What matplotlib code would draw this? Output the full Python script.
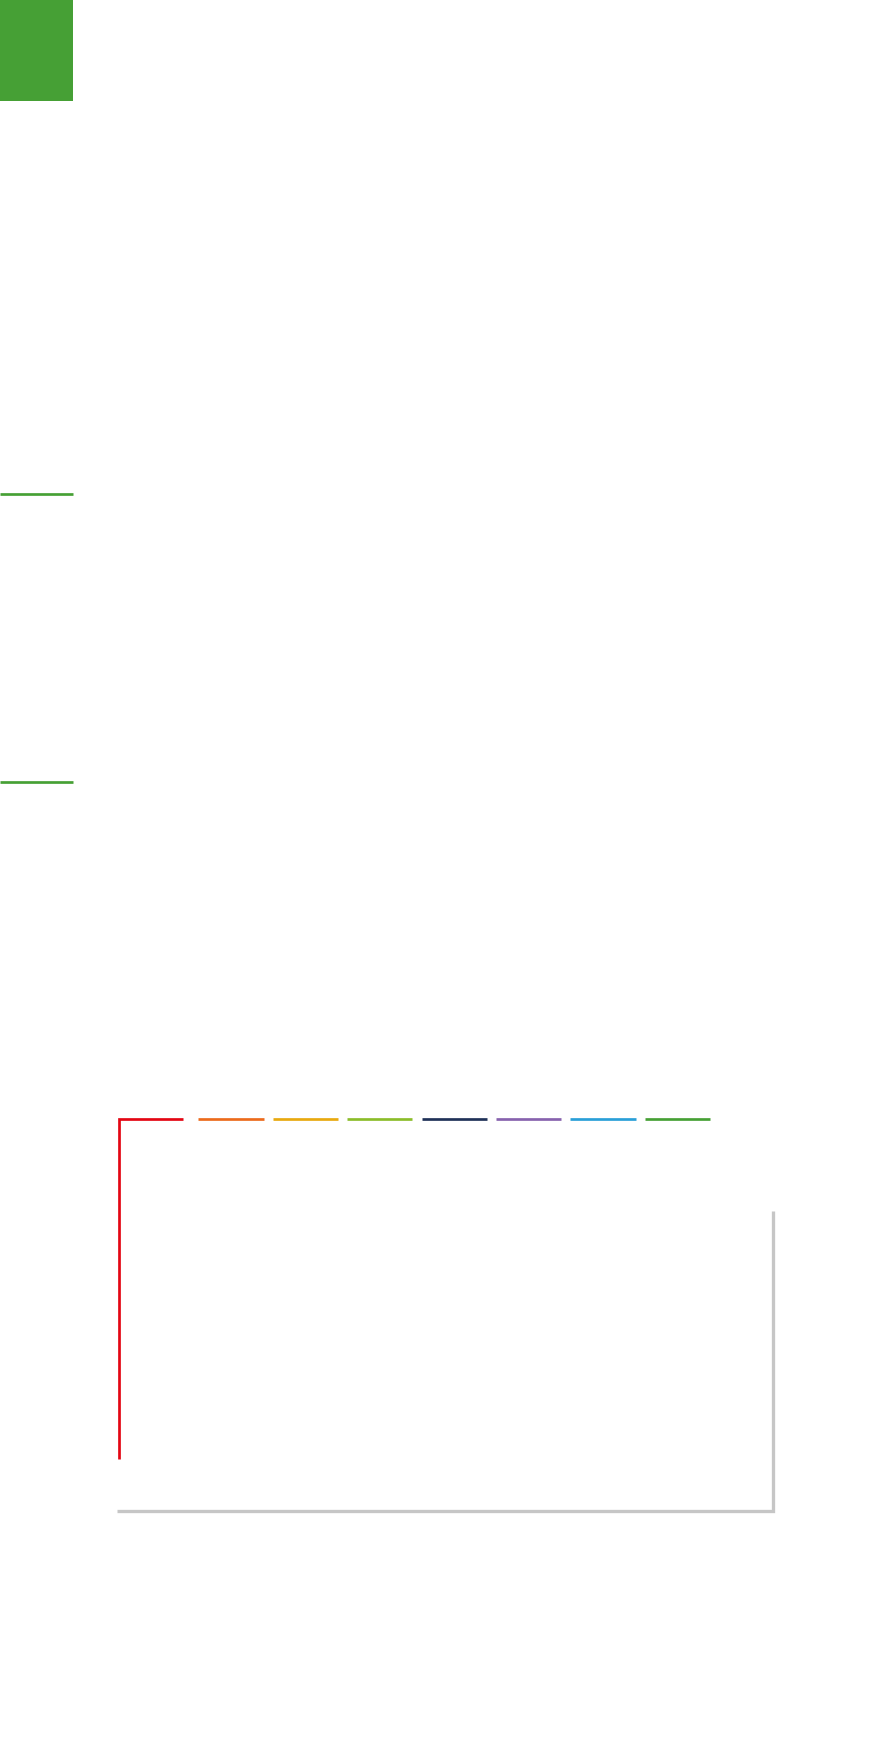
import matplotlib
matplotlib.use("Agg")
import matplotlib.pyplot as plt
from matplotlib.patches import Rectangle

# accent palette for the dash row (left to right)
dash_colors = ['#ec6a1c', '#e8a90f', '#8bbd2a', '#1f3158', '#8762ae', '#2a9fd8', '#46a035']
brand_green = '#46a035'
corner_red = '#e30613'
frame_gray = '#c6c6c6'

W, H = 874, 1748
fig = plt.figure(figsize=(W / 100, H / 100), dpi=100)
ax = fig.add_axes([0, 0, 1, 1])
ax.set_xlim(0, W)
ax.set_ylim(H, 0)
ax.axis('off')

def px(p):
    # pixels -> points for linewidths
    return p * 72 / 100

# green block top left + two green rules
ax.add_patch(Rectangle((0, 0), 72.5, 100.5, color=brand_green, lw=0))
for y in [494.3, 781.7]:
    ax.plot([0, 73], [y, y], color=brand_green, lw=px(2.7), solid_capstyle='butt')

# red corner bracket
ax.plot([118.7, 118.7, 183.3], [1458.7, 1118.7, 1118.7], color=corner_red,
        lw=px(2.7), solid_capstyle='butt', solid_joinstyle='miter')

# coloured dashes
x0, step, length = 198.3, 74.4, 65.2
for i, c in enumerate(dash_colors):
    xs = x0 + i * step
    ax.plot([xs, xs + length], [1118.7, 1118.7], color=c, lw=px(2.7),
            solid_capstyle='butt')

# gray frame bottom right
ax.plot([117, 773.2, 773.2], [1511, 1511, 1211], color=frame_gray,
        lw=px(3.3), solid_capstyle='butt', solid_joinstyle='miter')

fig.savefig('out.png', dpi=100, facecolor='white')
